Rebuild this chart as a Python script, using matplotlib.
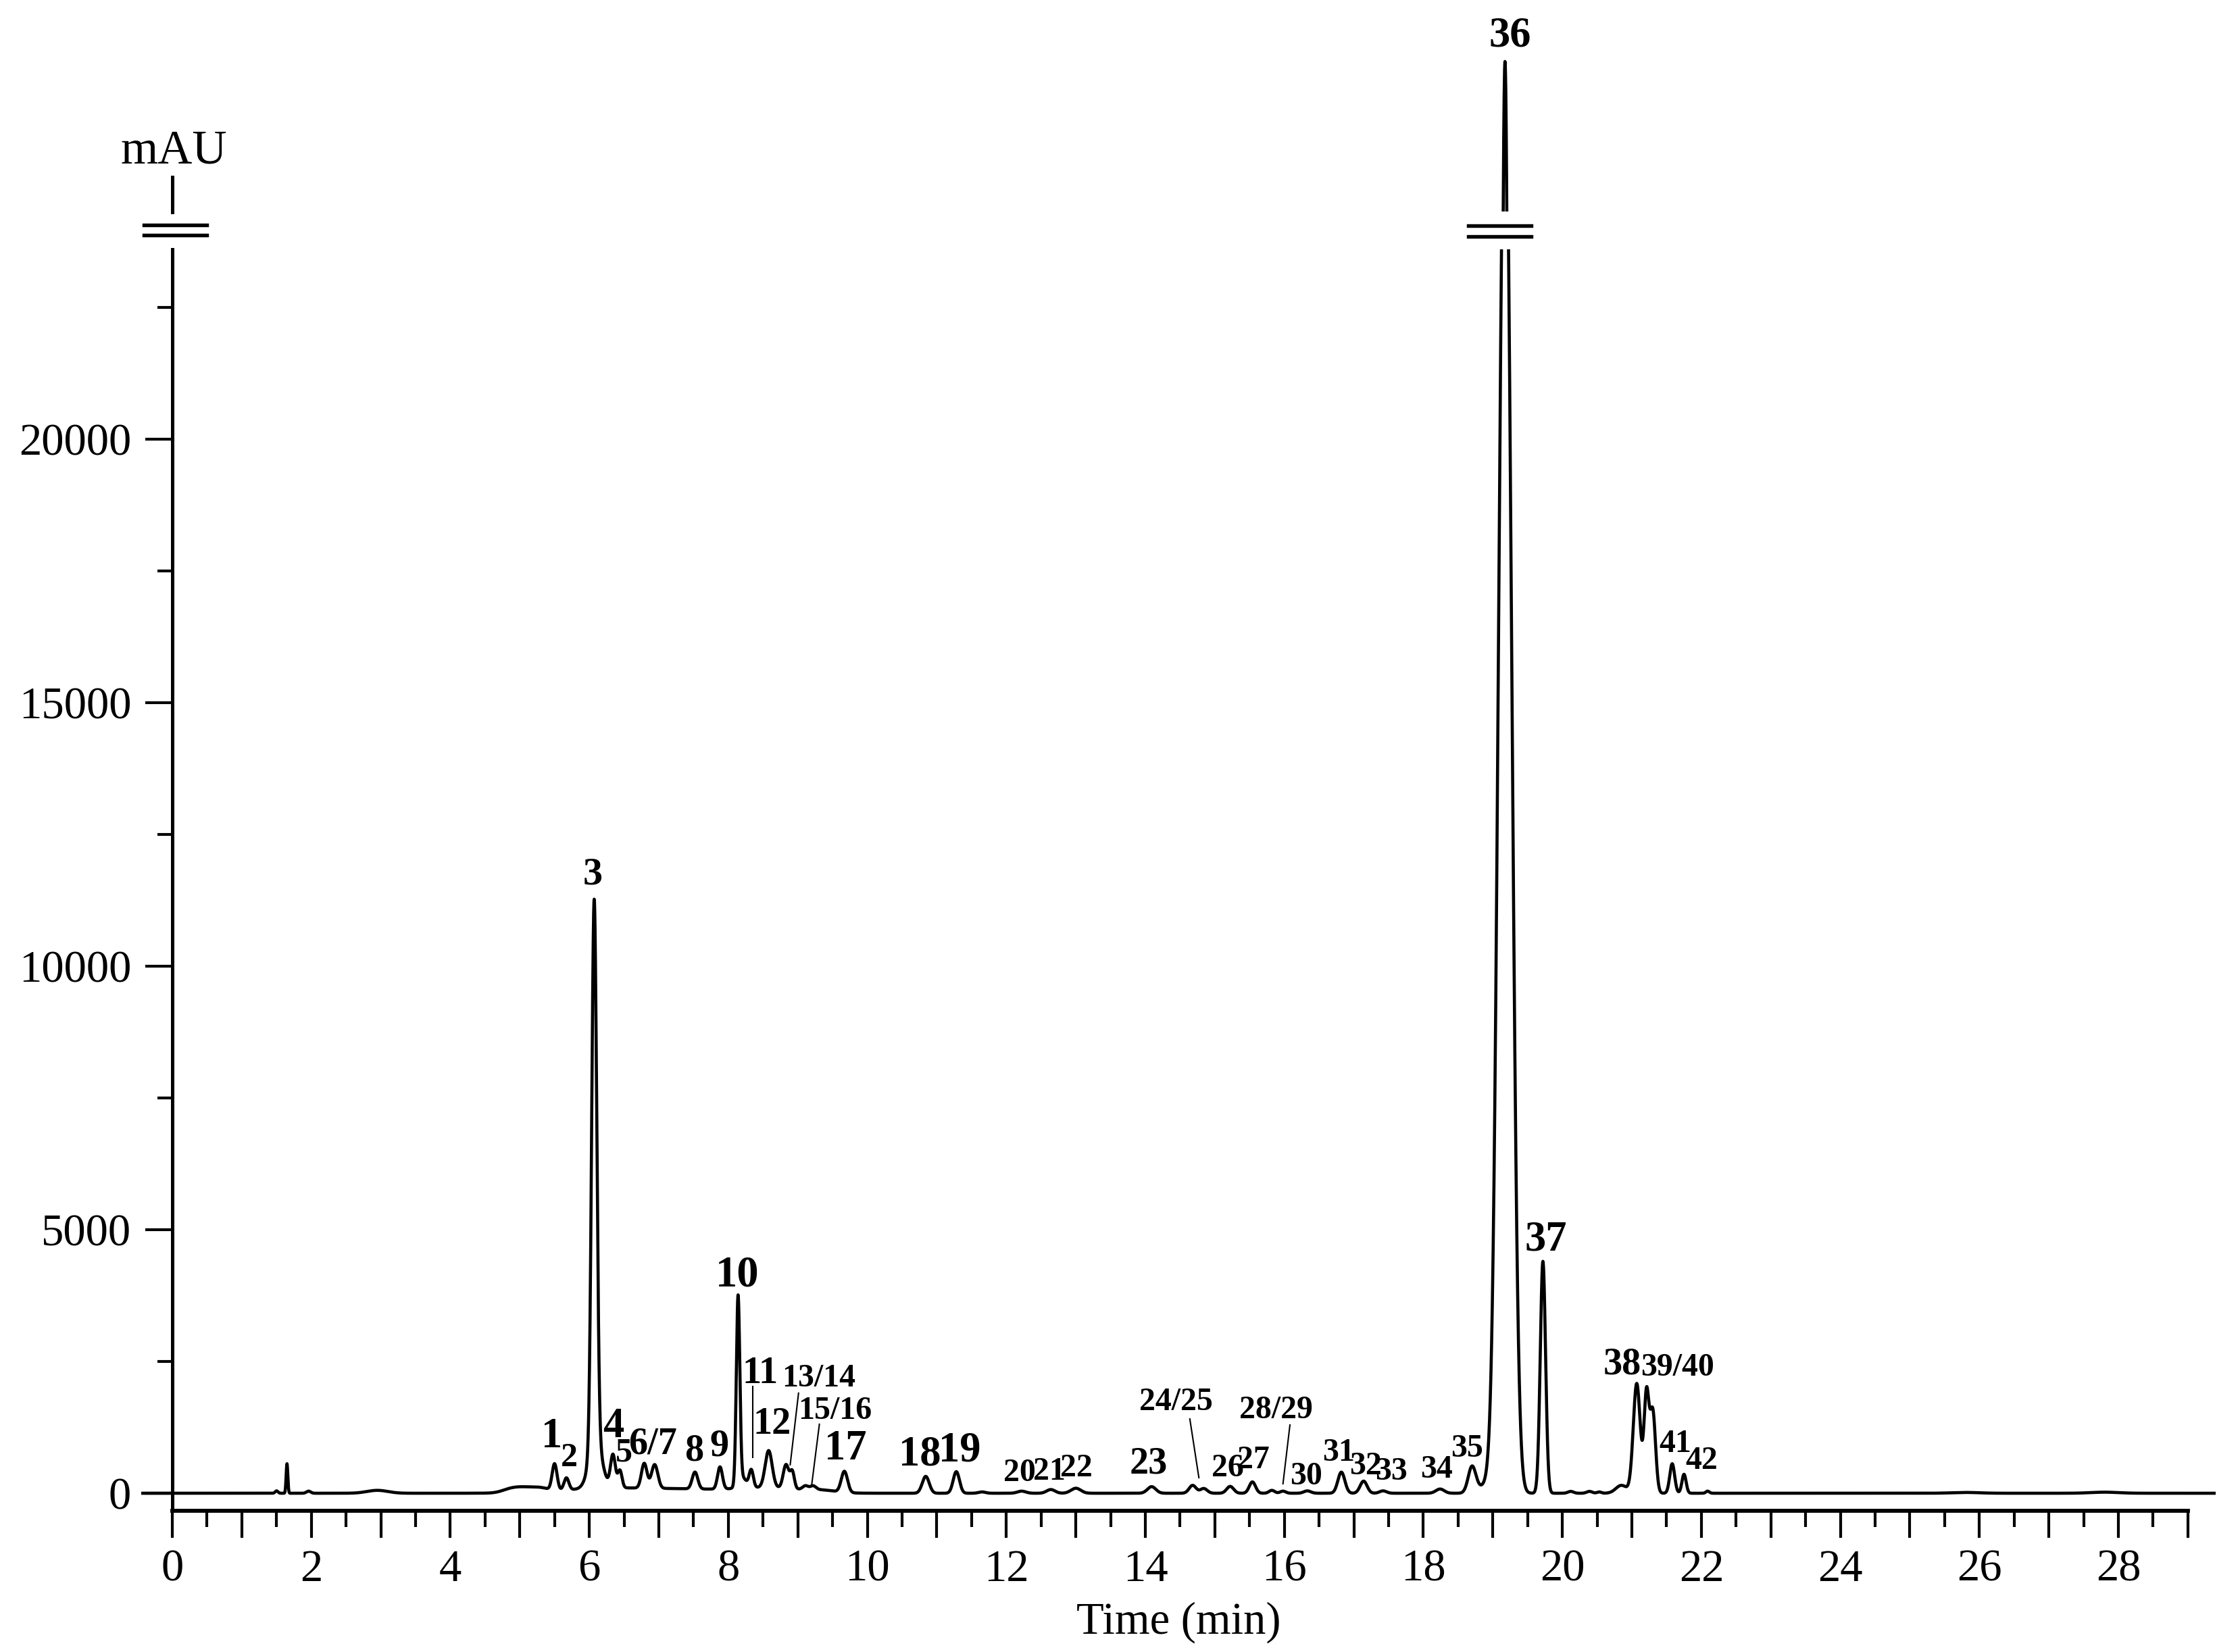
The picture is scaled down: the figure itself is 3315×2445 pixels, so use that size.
import numpy as np
import matplotlib
matplotlib.use("Agg")
import matplotlib.pyplot as plt
from matplotlib.ticker import FixedLocator

plt.rcParams['font.family'] = ['Liberation Serif', 'DejaVu Serif']

# peak components: retention time (min), height (mAU), sigma (min)
peak_time = [1.50, 1.65, 1.96, 2.95, 4.85, 5.05, 5.30, 6.2, 7.4, 8.6, 9.35,
             5.50, 5.67, 6.07, 6.09, 6.34, 6.44, 6.79, 6.94, 7.52, 7.88,
             8.14, 8.20, 8.33, 8.58, 8.83, 8.92, 9.11, 9.22, 9.67,
             10.84, 11.28, 11.65, 12.22, 12.64, 13.00, 14.09, 14.68, 14.84,
             15.22, 15.54, 15.82, 15.98, 16.33, 16.82, 17.14, 17.42, 18.24,
             18.70, 18.92, 19.17, 19.27, 19.72, 20.12, 20.39, 20.53, 20.85,
             21.07, 21.21, 21.30, 21.58, 21.75, 22.09, 25.8, 27.8]
peak_height = [45, 560, 40, 55, 50, 90, 60, 90, 70, 100, 40,
               500, 230, 10300, 900, 620, 330, 470, 450, 320, 420,
               3550, 200, 330, 700, 450, 320, 70, 70, 400,
               320, 410, 25, 40, 70, 95, 125, 150, 90,
               130, 215, 55, 40, 45, 400, 230, 45, 80,
               490, 150, 26800, 2000, 4400, 35, 35, 25, 150,
               2080, 1850, 1550, 560, 360, 40, 15, 20]
peak_sigma = [0.02, 0.012, 0.03, 0.15, 0.12, 0.15, 0.12, 0.6, 0.6, 0.45, 0.2,
              0.035, 0.035, 0.036, 0.09, 0.035, 0.03, 0.04, 0.045, 0.04, 0.035,
              0.025, 0.06, 0.03, 0.05, 0.04, 0.03, 0.04, 0.04, 0.045,
              0.05, 0.045, 0.05, 0.06, 0.06, 0.07, 0.06, 0.05, 0.05,
              0.05, 0.045, 0.04, 0.04, 0.05, 0.05, 0.05, 0.05, 0.06,
              0.055, 0.12, 0.088, 0.07, 0.038, 0.04, 0.04, 0.03, 0.08,
              0.05, 0.035, 0.04, 0.035, 0.03, 0.025, 0.2, 0.2]

# peak labels: text, time (min), mAU, font size
label_text = ['1', '2', '3', '4', '5', '6/7', '8', '9', '10', '11', '12',
              '13/14', '15/16', '17', '18', '19', '20', '21', '22', '23',
              '24/25', '26', '27', '28/29', '30', '31', '32', '33', '34', '35',
              '37', '38', '39/40', '41', '42']
label_time = [5.46, 5.71, 6.05, 6.35, 6.50, 6.91, 7.51, 7.87, 8.13, 8.46, 8.63,
              9.30, 9.53, 9.69, 10.76, 11.33, 12.19, 12.62, 13.01, 14.05,
              14.44, 15.18, 15.55, 15.88, 16.31, 16.78, 17.17, 17.54, 18.19, 18.63,
              19.76, 20.86, 21.66, 21.62, 22.00]
label_mau = [1064, 667, 11743, 1256, 769, 936, 808, 897, 4141, 2269, 1308,
             2179, 1564, 833, 731, 808, 385, 410, 474, 564,
             1731, 474, 628, 1577, 320, 769, 513, 410, 449, 846,
             4808, 2449, 2385, 936, 615]
label_size = [15, 12, 14, 15, 12, 13.5, 13.5, 13.5, 15.5, 13.5, 13.5,
              11.5, 11.5, 15, 15, 15, 11.5, 11.5, 11.5, 13.5,
              11.5, 11.5, 11.5, 11.5, 11.5, 11.5, 11.5, 11.5, 11.5, 11.5,
              15, 13.5, 11.5, 11.5, 11.5]

# leader lines from label to peak
lead_time = [(8.35, 8.35), (9.01, 8.89), (9.31, 9.20), (14.64, 14.77), (16.08, 15.98)]
lead_mau = [(2020, 680), (1900, 540), (1310, 165), (1410, 295), (1295, 180)]

t = np.arange(-0.45, 29.4, 0.002)
signal = np.zeros_like(t)
for c, h, s in zip(peak_time, peak_height, peak_sigma):
    signal += h * np.exp(-0.5 * ((t - c) / s) ** 2)

fig = plt.figure(figsize=(11.05, 8.15), dpi=300)
ax = fig.add_axes([0.06296, 0.08548, 0.9262, 0.7636])
top = fig.add_axes([0.06296, 0.87198, 0.9262, 0.09203])

ax.plot(t, signal, color='black', lw=1.1, solid_joinstyle='round')
top.plot(t, signal, color='black', lw=1.1, solid_joinstyle='round')

ax.set_xlim(-0.45, 29.4)
ax.set_ylim(-333, 23603)
top.set_xlim(-0.45, 29.4)
apex = signal.max()
top.set_ylim(apex - 1100, apex + 15)
top.axis('off')

for side in ['top', 'right']:
    ax.spines[side].set_visible(False)
ax.spines['left'].set_position(('data', 0))
ax.spines['left'].set_linewidth(1.2)
ax.spines['bottom'].set_linewidth(1.4)
ax.spines['bottom'].set_bounds(0, 29)

ax.set_xticks(np.arange(0, 30, 1))
ax.set_xticklabels([str(i) if i % 2 == 0 else '' for i in range(30)])
ax.xaxis.set_minor_locator(FixedLocator(np.arange(0.5, 29, 1)))
ax.set_yticks([0, 5000, 10000, 15000, 20000])
ax.yaxis.set_minor_locator(FixedLocator(np.arange(2500, 23000, 5000)))
ax.tick_params(axis='x', which='major', direction='out', length=9.6, width=1.0, labelsize=16, pad=4)
ax.tick_params(axis='x', which='minor', direction='out', length=5.8, width=1.0)
ax.tick_params(axis='y', which='major', direction='out', length=9.6, width=1.0, labelsize=16, pad=5)
ax.tick_params(axis='y', which='minor', direction='out', length=5.3, width=1.0)
ax.set_xlabel('Time (min)', fontsize=16, labelpad=4)

# axis break marks
xt = ax.get_xaxis_transform()
ax.plot([0, 0], [1.0295, 1.0573], color='black', lw=1.2, transform=xt, clip_on=False)
for yy in [1.0112, 1.0193]:
    ax.plot([-0.41, 0.50], [yy, yy], color='black', lw=1.3, transform=xt, clip_on=False)
for yy in [1.0102, 1.0187]:
    ax.plot([18.65, 19.55], [yy, yy], color='black', lw=1.3, transform=xt, clip_on=False)
ax.text(0.02, 1.0777, 'mAU', transform=xt, ha='center', va='center', fontsize=17)
ax.text(19.25, 1.169, '36', transform=xt, ha='center', va='center', fontsize=15,
        fontweight='bold', clip_on=False)

for txt, lt, lv, ls in zip(label_text, label_time, label_mau, label_size):
    ax.text(lt, lv, txt, ha='center', va='center', fontsize=ls, fontweight='bold')
for lt, lv in zip(lead_time, lead_mau):
    ax.plot(lt, lv, color='black', lw=0.5)

fig.savefig('out.png', dpi=300)
